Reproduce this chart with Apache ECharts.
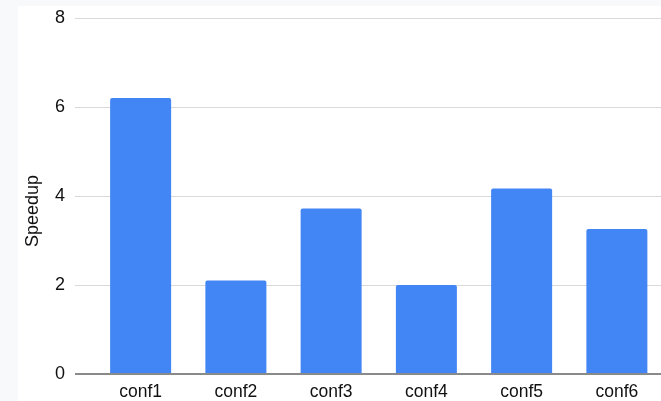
<!DOCTYPE html>
<html>
<head>
<meta charset="utf-8">
<script src="https://cdn.jsdelivr.net/npm/echarts@6/dist/echarts.min.js"></script>
<style>
html,body{margin:0;padding:0;background:#f8f9fa;overflow:hidden;width:661px;height:401px;}
#c{width:680px;height:401px;}
</style>
</head>
<body>
<div id="c"></div>
<script>
const categories = ["conf1", "conf2", "conf3", "conf4", "conf5", "conf6"];
const speedup = [6.2, 2.1, 3.72, 2.0, 4.17, 3.26];
const yTicks = [0, 2, 4, 6, 8];
const yName = "Speedup";

const chart = echarts.init(document.getElementById('c'), null, {renderer: 'canvas'});
const font = "'Liberation Sans', Arial, sans-serif";
const textColor = '#111';
chart.setOption({
  backgroundColor: 'transparent',
  animation: false,
  graphic: [{
    type: 'rect', z: -10, silent: true,
    shape: {x: 18, y: 6, width: 700, height: 420},
    style: {fill: '#ffffff'}
  }, {
    type: 'text', x: 33, y: 211, rotation: Math.PI / 2, silent: true,
    style: {text: yName, fill: textColor, font: "18px 'Liberation Sans', Arial, sans-serif",
            align: 'center', verticalAlign: 'middle'}
  }],
  grid: [
    {left: 75, top: 18, width: 586, height: 356},
    {left: 93, top: 18, width: 571.5, height: 356}
  ],
  xAxis: [
    {gridIndex: 0, type: 'value', min: 0, max: 1, show: false},
    {gridIndex: 1, type: 'category', data: categories,
     axisLine: {show: false}, axisTick: {show: false},
     axisLabel: {color: textColor, fontSize: 17.5, fontFamily: font, margin: 9}}
  ],
  yAxis: [
    {gridIndex: 0, type: 'value', min: yTicks[0], max: yTicks[yTicks.length-1], interval: 2,
     axisLine: {show: false}, axisTick: {show: false},
     axisLabel: {color: textColor, fontSize: 18, fontFamily: font, margin: 10},
     splitLine: {lineStyle: {color: '#d9d9d9', width: 1}}},
    {gridIndex: 1, type: 'value', min: yTicks[0], max: yTicks[yTicks.length-1], interval: 2, show: false,
     splitLine: {show: false}}
  ],
  series: [
    {type: 'line', xAxisIndex: 0, yAxisIndex: 0, data: [[0, 0], [1, 0]],
     symbol: 'none', lineStyle: {color: '#8a8a8a', width: 2}, z: 5, silent: true},
    {type: 'bar', xAxisIndex: 1, yAxisIndex: 1, data: speedup, barWidth: 61,
     itemStyle: {color: '#4285f4', borderRadius: [2, 2, 0, 0]}, z: 3}
  ]
});
</script>
</body>
</html>
